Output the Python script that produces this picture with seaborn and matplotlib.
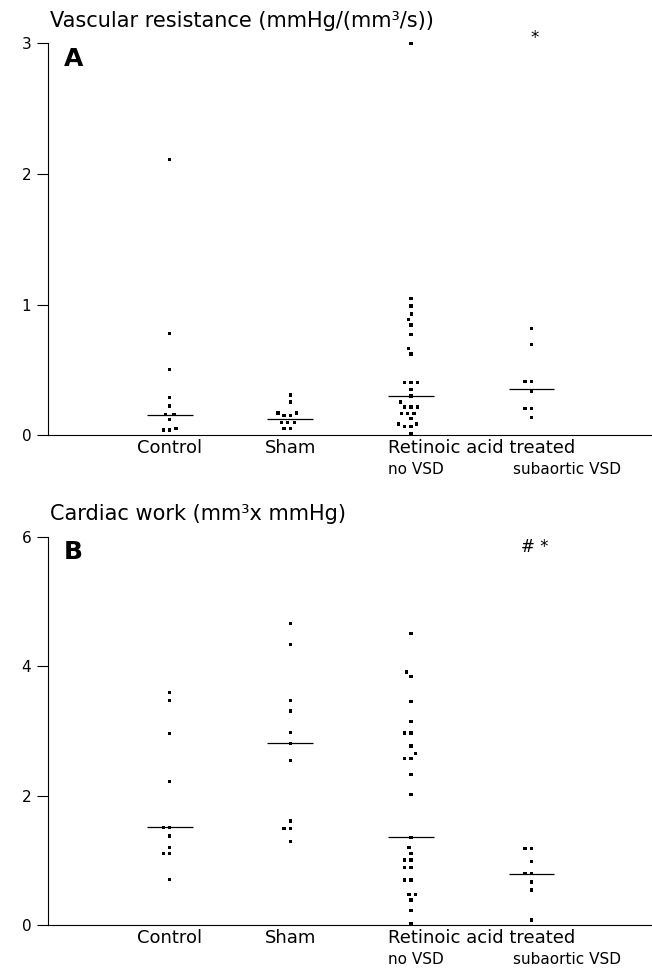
import numpy as np
import pandas as pd
import matplotlib
matplotlib.use("Agg")
import matplotlib.pyplot as plt
import seaborn as sns

groups = ["Control", "Sham", "no VSD", "subaortic VSD"]

# vascular resistance (mmHg/(mm3/s))
vr_control = [2.11, 0.78, 0.505, 0.29, 0.224, 0.158, 0.158, 0.122, 0.04, 0.05, 0.04]
vr_sham = [0.308, 0.255, 0.17, 0.17, 0.153, 0.153, 0.096, 0.096, 0.096, 0.053, 0.053]
vr_novsd = [3.0, 1.048, 0.989, 0.928, 0.887, 0.844, 0.773, 0.666, 0.622,
            0.403, 0.403, 0.403, 0.352, 0.30, 0.255, 0.217, 0.217, 0.217,
            0.168, 0.168, 0.168, 0.127, 0.086, 0.086, 0.066, 0.066, 0.012]
vr_vsd = [0.818, 0.693, 0.41, 0.41, 0.339, 0.207, 0.207, 0.138]
vr_medians = [0.158, 0.127, 0.30, 0.352]

# cardiac work (mm3 x mmHg)
cw_control = [3.59, 3.47, 2.96, 2.22, 1.51, 1.51, 1.38, 1.20, 1.105, 1.105, 0.71]
cw_sham = [4.66, 4.34, 3.47, 3.31, 2.98, 2.81, 2.54, 1.61, 1.49, 1.49, 1.29]
cw_novsd = [4.51, 3.91, 3.84, 3.46, 3.15, 2.97, 2.97, 2.77, 2.65, 2.58, 2.58,
            2.33, 2.02, 1.36, 1.20, 1.11, 1.01, 1.01, 0.895, 0.895, 0.70, 0.70,
            0.48, 0.48, 0.39, 0.225, 0.02]
cw_vsd = [1.19, 1.19, 0.99, 0.80, 0.80, 0.67, 0.545, 0.08]
cw_medians = [1.52, 2.81, 1.36, 0.79]


def long_table(cols):
    rows = []
    for g, vals in zip(groups, cols):
        for v in vals:
            rows.append((g, v))
    return pd.DataFrame(rows, columns=["group", "value"])


vr = long_table([vr_control, vr_sham, vr_novsd, vr_vsd])
cw = long_table([cw_control, cw_sham, cw_novsd, cw_vsd])

sns.set_style("ticks")
plt.rcParams["font.family"] = ["DejaVu Sans"]
plt.rcParams["text.color"] = "black"
plt.rcParams["xtick.color"] = "black"
plt.rcParams["ytick.color"] = "black"
plt.rcParams["axes.labelcolor"] = "black"

W, H = 652, 968
fig = plt.figure(figsize=(W / 100, H / 100), dpi=100)


def px_axes(left, top, right, bottom):
    return fig.add_axes([left / W, 1 - bottom / H, (right - left) / W, (bottom - top) / H])


axA = px_axes(48, 43.3, 652, 435.3)
axB = px_axes(48, 536.7, 652, 925.3)

panels = [
    (axA, vr, vr_medians, 3, "A", "*", 3.0),
    (axB, cw, cw_medians, 6, "B", "# *", 5.76),
]

for ax, df, meds, ymax, letter, mark, mark_y in panels:
    sns.swarmplot(data=df, x="group", y="value", order=groups, ax=ax,
                  color="black", marker="s", size=2.4, edgecolor="none",
                  linewidth=2.0, clip_on=False)
    xs = np.arange(len(groups))
    ax.hlines(meds, xs - 0.19, xs + 0.19, color="black", lw=0.9, zorder=4)

    ax.set_xlim(-1.01, 4.0)
    ax.set_ylim(0, ymax)
    ax.set_yticks(np.arange(0, ymax + 1, 1 if ymax == 3 else 2))
    ax.set_xticks([0, 1], ["Control", "Sham"])
    ax.set_xlabel("")
    ax.set_ylabel("")
    ax.tick_params(axis="y", length=8, width=0.8, pad=4, labelsize=11)
    ax.tick_params(axis="x", length=0, pad=3, labelsize=13)
    for s in ["top", "right"]:
        ax.spines[s].set_visible(False)
    for s in ["left", "bottom"]:
        ax.spines[s].set_linewidth(0.8)
        ax.spines[s].set_color("black")

    xt = ax.get_xaxis_transform()
    ax.annotate("Retinoic acid treated", xy=(1.81, 0), xycoords=xt,
                xytext=(0, -3), textcoords="offset points",
                ha="left", va="top", fontsize=13)
    ax.annotate("no VSD", xy=(1.81, 0), xycoords=xt,
                xytext=(0, -19), textcoords="offset points",
                ha="left", va="top", fontsize=11)
    ax.annotate("subaortic VSD", xy=(2.85, 0), xycoords=xt,
                xytext=(0, -19), textcoords="offset points",
                ha="left", va="top", fontsize=11)

    ax.text(-0.88, ymax * 0.942, letter, fontsize=18, fontweight="bold",
            ha="left", va="baseline")
    ax.text(3.03, mark_y, mark, fontsize=12, ha="center", va="baseline", clip_on=False)

fig.text(50 / W, 1 - 27 / H, "Vascular resistance (mmHg/(mm³/s))", fontsize=15, va="baseline")
fig.text(50 / W, 1 - 520 / H, "Cardiac work (mm³x mmHg)", fontsize=15, va="baseline")

fig.savefig("out.png", dpi=100)
